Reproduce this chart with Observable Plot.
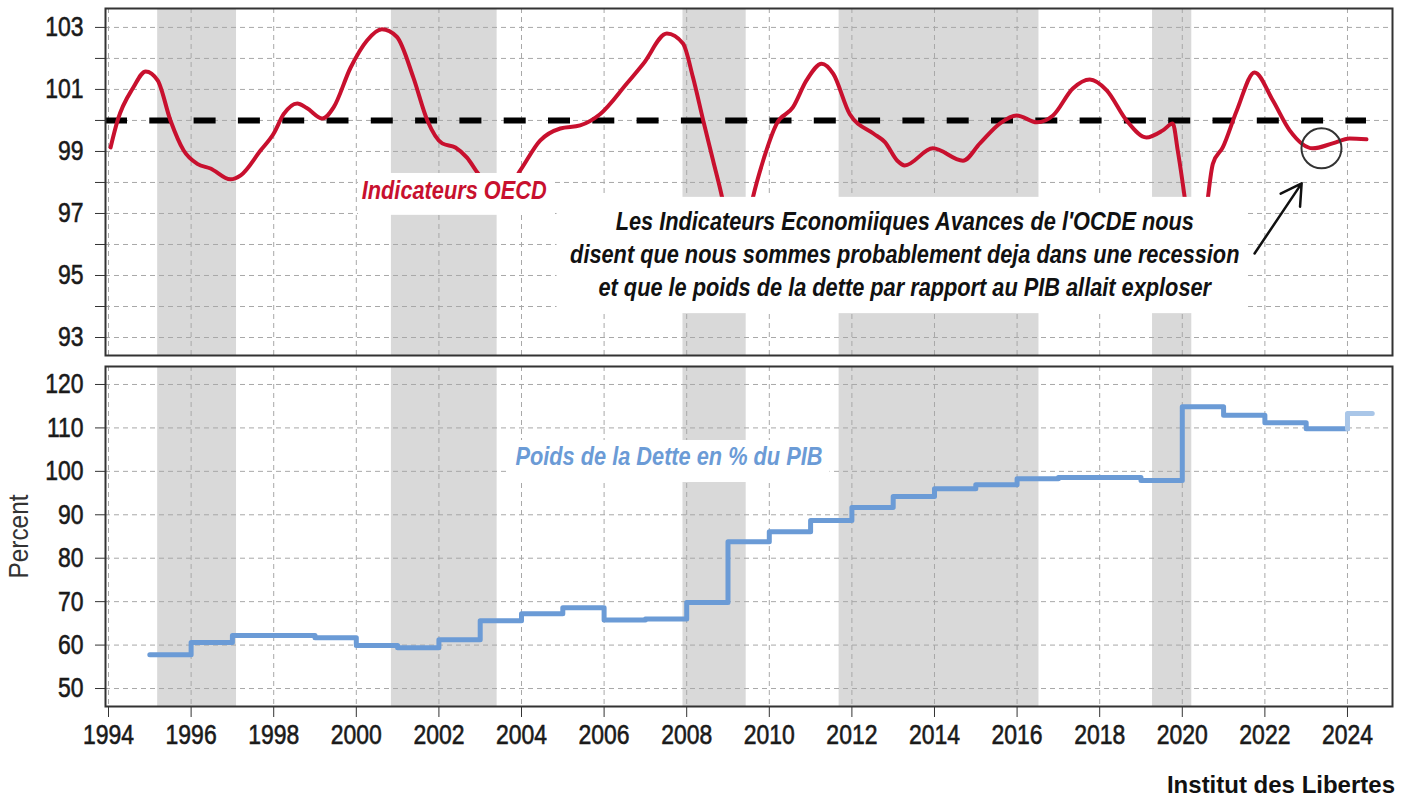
<!DOCTYPE html>
<html><head><meta charset="utf-8">
<script src="https://cdn.jsdelivr.net/npm/d3@7"></script>
<script src="https://cdn.jsdelivr.net/npm/@observablehq/plot@0.6"></script>
<style>
body{margin:0;background:#fff;width:1410px;height:800px;overflow:hidden;position:relative;font-family:"Liberation Sans",Arial,sans-serif;}
#top,#bottom{position:absolute;left:0;}
#top{top:0}#bottom{top:360px}
#credit{position:absolute;right:15px;top:773px;font-weight:bold;font-size:24px;color:#111;line-height:1;}
g[aria-label$="tick label"] text{stroke:#1a1a1a;stroke-width:0.6px;}
</style></head><body>
<div id="top"></div><div id="bottom"></div><div id="credit">Institut des Libertes</div>
<script>
// ---- data ----
const oecdYears = [1994.05,1994.22,1994.6,1994.9,1995.19,1995.5,1995.82,1996.15,1996.47,1996.95,1997.2,1997.68,1998.0,1998.24,1998.57,1998.8,1999.18,1999.45,1999.86,2000.26,2000.62,2000.98,2001.38,2001.72,2002.08,2002.4,2002.68,2002.95,2003.3,2003.65,2003.97,2004.45,2004.94,2005.42,2005.9,2006.55,2006.95,2007.52,2007.91,2008.15,2008.4,2008.64,2008.86,2009.1,2009.35,2009.6,2009.85,2010.18,2010.57,2010.9,2011.27,2011.55,2011.95,2012.52,2012.8,2013.1,2013.28,2013.96,2014.69,2015.1,2015.58,2015.99,2016.48,2016.87,2017.35,2017.76,2018.17,2018.65,2019.13,2019.53,2019.77,2019.89,2020.06,2020.3,2020.5,2020.62,2020.74,2020.98,2021.32,2021.75,2022.19,2022.6,2023.16,2023.64,2024.05,2024.46];
const oecdValues = [99.13,100.0,101.06,101.58,101.29,100.0,99.03,98.6,98.45,98.1,98.23,99.03,99.58,100.2,100.55,100.4,100.06,100.42,101.7,102.58,102.94,102.7,101.39,100.0,99.26,99.13,98.8,98.29,97.8,97.8,98.39,99.35,99.74,99.84,100.2,101.19,101.83,102.8,102.48,101.4,100.0,98.7,97.5,95.8,95.8,97.5,98.7,99.9,100.42,101.29,101.83,101.5,100.2,99.58,99.3,98.7,98.55,99.1,98.7,99.26,99.9,100.16,99.94,100.16,101.03,101.32,100.97,100.0,99.45,99.68,99.9,99.03,97.5,95.0,96.0,97.5,98.6,99.13,100.32,101.55,100.65,99.68,99.1,99.26,99.42,99.39];

const debtYears = [1995,1996,1997,1998,1999,2000,2001,2002,2003,2004,2005,2006,2007,2008,2009,2010,2011,2012,2013,2014,2015,2016,2017,2018,2019,2020,2021,2022,2023];
const debtValues = [57.8,60.6,62.2,62.2,61.7,59.9,59.4,61.2,65.6,67.2,68.6,65.8,66.0,69.8,83.8,86.1,88.7,91.7,94.2,96.0,96.9,98.3,98.6,98.6,97.9,114.9,112.9,111.2,109.8];
const debtLatestYears = [2024, 2024, 2024.6];
const debtLatestValues = [109.8, 113.3, 113.3];

const recessionStart = [1995.19, 2000.85, 2007.91, 2011.69, 2019.28];
const recessionEnd   = [1997.10, 2003.41, 2009.44, 2016.53, 2020.23];

const yearTicks = [1994,1996,1998,2000,2002,2004,2006,2008,2010,2012,2014,2016,2018,2020,2022,2024];
const topTicks = [93,94,95,96,97,98,99,100,101,102,103];
const bottomTicks = [50,60,70,80,90,100,110,120];
const reference = 100;

// ---- derived tables ----
const oecd = oecdYears.map((y,i)=>({year:y, value:oecdValues[i]}));
const debt = debtYears.map((y,i)=>({year:y, value:debtValues[i]}));
debt.push({year: debtYears[debtYears.length-1]+1, value: debtValues[debtValues.length-1]});
const debtLatest = debtLatestYears.map((y,i)=>({year:y, value:debtLatestValues[i]}));
const recessions = recessionStart.map((s,i)=>({start:s, end:recessionEnd[i]}));

const FONT = '"Liberation Sans",Arial,sans-serif';
const xDomain = [1993.927, 2025.09];
const RED = "#c8102e", BLUE = "#6b9bd6", LIGHTBLUE = "#a9c6e8", SHADE = "#d9d9d9", GRID = "#a8a8a8";
const gridOpts = {stroke: GRID, strokeOpacity: 1, strokeWidth: 1, strokeDasharray: "5,4"};

// narrow the glyphs horizontally around each text anchor (condensed face look)
function condense(svg, selector, s) {
  svg.querySelectorAll(selector).forEach(t => {
    const tr = t.getAttribute("transform");
    if (tr) t.setAttribute("transform", tr + ` scale(${s},1)`);
    else {
      const x = +(t.getAttribute("x") || 0), y = +(t.getAttribute("y") || 0);
      t.setAttribute("transform", `translate(${x},${y}) scale(${s},1) translate(${-x},${-y})`);
    }
  });
}

const topPlot = Plot.plot({
  width: 1410, height: 360, marginTop: 8, marginBottom: 5, marginLeft: 105, marginRight: 18,
  style: {fontFamily: FONT, background: "white", color: "#1a1a1a", overflow: "visible"},
  x: {domain: xDomain},
  y: {domain: [92.42, 103.61]},
  marks: [
    Plot.rect(recessions, {x1: "start", x2: "end", fill: SHADE}),
    Plot.gridY(topTicks, gridOpts),
    Plot.gridX(yearTicks, gridOpts),
    Plot.axisY(topTicks, {tickSize: 10, tickPadding: 12, fontSize: 28, stroke: "#333", label: null,
      tickFormat: d => d % 2 ? String(d) : ""}),
    Plot.axisX([], {label: null}),
    Plot.ruleY([reference], {x1: xDomain[0], x2: oecdYears[oecdYears.length-1], stroke: "black", strokeWidth: 6, strokeDasharray: "22,22.3"}),
    Plot.line(oecd, {x: "year", y: "value", stroke: RED, strokeWidth: 4, curve: "monotone-x"}),
    Plot.rect([0], {x1: 2000.05, x2: 2004.82, y1: 96.94, y2: 98.29, fill: "white"}),
    Plot.rect([0], {x1: 2004.86, x2: 2021.56, y1: 93.77, y2: 97.52, fill: "white"}),
    Plot.text(["Indicateurs OECD"], {x: 2002.37, y: 97.71, fill: RED, fontWeight: "bold", fontStyle: "italic", fontSize: 25}),
    Plot.text(["Les Indicateurs Economiiques Avances de l'OCDE nous\ndisent que nous sommes probablement deja dans une recession\net que le poids de la dette par rapport au PIB allait exploser"],
      {x: 2013.28, y: 95.74, fill: "#111", fontWeight: "bold", fontStyle: "italic", fontSize: 25, lineHeight: 1.32}),
    Plot.dot([0], {x: 2023.37, y: 99.1, r: 20, stroke: "#333", strokeWidth: 2, fill: "none"}),
    Plot.arrow([0], {x1: 2021.75, y1: 95.71, x2: 2022.89, y2: 97.97, stroke: "#111", strokeWidth: 2.5, headLength: 14}),
    Plot.frame({stroke: "#333", strokeWidth: 2})
  ]
});
condense(topPlot, 'g[aria-label="text"] text', 0.87);
condense(topPlot, 'g[aria-label$="tick label"] text', 0.82);
document.getElementById("top").append(topPlot);

const bottomPlot = Plot.plot({
  width: 1410, height: 400, marginTop: 6, marginBottom: 54, marginLeft: 105, marginRight: 18,
  style: {fontFamily: FONT, background: "white", color: "#1a1a1a", overflow: "visible"},
  x: {domain: xDomain},
  y: {domain: [45.86, 124.14]},
  marks: [
    Plot.rect(recessions, {x1: "start", x2: "end", fill: SHADE}),
    Plot.gridY(bottomTicks, gridOpts),
    Plot.gridX(yearTicks, gridOpts),
    Plot.axisY(bottomTicks, {tickSize: 10, tickPadding: 12, fontSize: 28, stroke: "#333", label: null, tickFormat: d => String(d)}),
    Plot.axisX(yearTicks, {tickSize: 11, tickPadding: 7, fontSize: 28, stroke: "#333", label: null, tickFormat: d => String(d)}),
    Plot.rect([0], {x1: 2003.73, x2: 2011.47, y1: 97.43, y2: 107.1, fill: "white"}),
    Plot.line(debt, {x: "year", y: "value", stroke: BLUE, strokeWidth: 5, curve: "step-after"}),
    Plot.line(debtLatest, {x: "year", y: "value", stroke: LIGHTBLUE, strokeWidth: 5}),
    Plot.text(["Poids de la Dette en % du PIB"], {x: 2007.57, y: 103.19, fill: BLUE, fontWeight: "bold", fontStyle: "italic", fontSize: 25}),
    Plot.text(["Percent"], {frameAnchor: "left", textAnchor: "middle", dx: -86, rotate: -90, fontSize: 28, fill: "#333"}),
    Plot.frame({stroke: "#333", strokeWidth: 2})
  ]
});
condense(bottomPlot, 'g[aria-label="text"] text', 0.87);
condense(bottomPlot, 'g[aria-label$="tick label"] text', 0.82);
document.getElementById("bottom").append(bottomPlot);
</script>
</body></html>
